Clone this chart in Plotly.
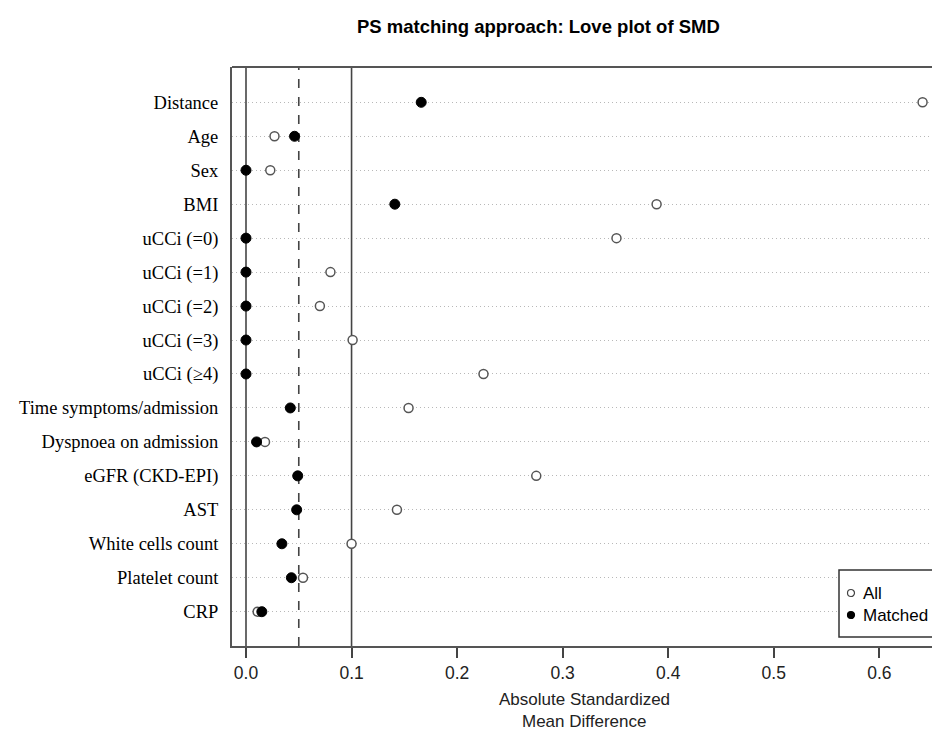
import plotly.graph_objects as go

covariates = ["Distance", "Age", "Sex", "BMI", "uCCi (=0)", "uCCi (=1)", "uCCi (=2)",
              "uCCi (=3)", "uCCi (\u22654)", "Time symptoms/admission", "Dyspnoea on admission",
              "eGFR (CKD-EPI)", "AST", "White cells count", "Platelet count", "CRP"]
smd_all = [0.641, 0.027, 0.023, 0.389, 0.351, 0.080, 0.070, 0.101, 0.225, 0.154,
           0.018, 0.275, 0.143, 0.100, 0.054, 0.011]
smd_matched = [0.166, 0.046, 0.0, 0.141, 0.0, 0.0, 0.0, 0.0, 0.0, 0.042,
               0.010, 0.049, 0.048, 0.034, 0.043, 0.015]
x_ticks = [0.0, 0.1, 0.2, 0.3, 0.4, 0.5, 0.6]
threshold_lines = [0.0, 0.1]
threshold_dashed = 0.05

W, H = 932, 732
PL, PR, PT, PB = 232, 932, 67, 646      # plot box in page pixels
ML, MR, MT, MB = PL, W - PR, PT, H - PB
pw = PR - PL
ph = PB - PT

def px_x(p):
    return (p - PL) / pw
def px_y(p):
    return (PB - p) / ph

fig = go.Figure()
fig.add_trace(go.Scatter(x=smd_all, y=covariates, mode="markers", name="All",
                         marker=dict(symbol="circle", size=9, color="white",
                                     line=dict(color="#555555", width=1.5)),
                         showlegend=False, cliponaxis=False))
fig.add_trace(go.Scatter(x=smd_matched, y=covariates, mode="markers", name="Matched",
                         marker=dict(symbol="circle", size=10, color="black",
                                     line=dict(color="black", width=1)),
                         showlegend=False, cliponaxis=False))

for v in threshold_lines:
    fig.add_shape(type="line", xref="x", yref="paper", x0=v, x1=v, y0=0, y1=1,
                  line=dict(color="#444444", width=1.6), layer="below")
fig.add_shape(type="line", xref="x", yref="paper", x0=threshold_dashed, x1=threshold_dashed,
              y0=0, y1=1, line=dict(color="#444444", width=1.6, dash="dash"), layer="below")
# top frame line
fig.add_shape(type="line", xref="paper", yref="paper", x0=0, x1=1, y0=1, y1=1,
              line=dict(color="#555555", width=2))

# manual legend (box clipped on the right as in the reference)
fig.add_shape(type="rect", xref="paper", yref="paper",
              x0=px_x(839), x1=px_x(945), y0=px_y(637), y1=px_y(570),
              line=dict(color="#333333", width=1.5), fillcolor="white")
for label, yy, fill in [("All", 593, "white"), ("Matched", 615, "black")]:
    r = 3.5
    fig.add_shape(type="circle", xref="paper", yref="paper",
                  x0=px_x(851 - r), x1=px_x(851 + r), y0=px_y(yy + r), y1=px_y(yy - r),
                  line=dict(color="#444444" if fill == "white" else "black", width=1.2),
                  fillcolor=fill)
    fig.add_annotation(xref="paper", yref="paper", x=px_x(861), y=px_y(yy),
                       text=label, showarrow=False, xanchor="left", yanchor="middle",
                       font=dict(family="Liberation Sans, Arial", size=17, color="black"))

fig.add_annotation(xref="paper", yref="paper", x=px_x(538), y=px_y(26),
                   text="<b>PS matching approach: Love plot of SMD</b>", showarrow=False,
                   xanchor="center", yanchor="middle",
                   font=dict(family="Liberation Sans, Arial", size=18.5, color="black"))

fig.add_annotation(xref="paper", yref="paper", x=px_x(584), y=px_y(700),
                   text="Absolute Standardized", showarrow=False, xanchor="center", yanchor="middle",
                   font=dict(family="Liberation Sans, Arial", size=17, color="#222222"))
fig.add_annotation(xref="paper", yref="paper", x=px_x(584), y=px_y(721),
                   text="Mean Difference", showarrow=False, xanchor="center", yanchor="middle",
                   font=dict(family="Liberation Sans, Arial", size=17, color="#222222"))

x0 = (PL - 246) / 1055.5
x1 = (PR - 246) / 1055.5
fig.update_layout(
    width=W, height=H,
    margin=dict(l=ML, r=MR, t=MT, b=MB, autoexpand=False),
    paper_bgcolor="white", plot_bgcolor="white",
    xaxis=dict(range=[x0, x1], tickvals=x_ticks, ticktext=[f"{t:.1f}" for t in x_ticks],
               ticks="outside", ticklen=10, tickwidth=1.5, tickcolor="#444444",
               showgrid=False, zeroline=False, showline=True, linecolor="#555555", linewidth=2,
               tickfont=dict(family="Liberation Sans, Arial", size=17.5, color="#222222")),
    yaxis=dict(type="category", categoryorder="array", categoryarray=covariates[::-1],
               range=[-1.01, 16.04], showgrid=True, gridcolor="#b8b8b8", griddash="1px,3px",
               gridwidth=1, zeroline=False, showline=True, linecolor="#555555", linewidth=2,
               ticks="", ticklabelstandoff=8,
               tickfont=dict(family="Liberation Serif, Times New Roman", size=18.5, color="black")),
)
fig.write_html("out.html", config={"displayModeBar": False},
               post_script="document.body.style.margin='0';document.body.style.overflow='hidden';")
